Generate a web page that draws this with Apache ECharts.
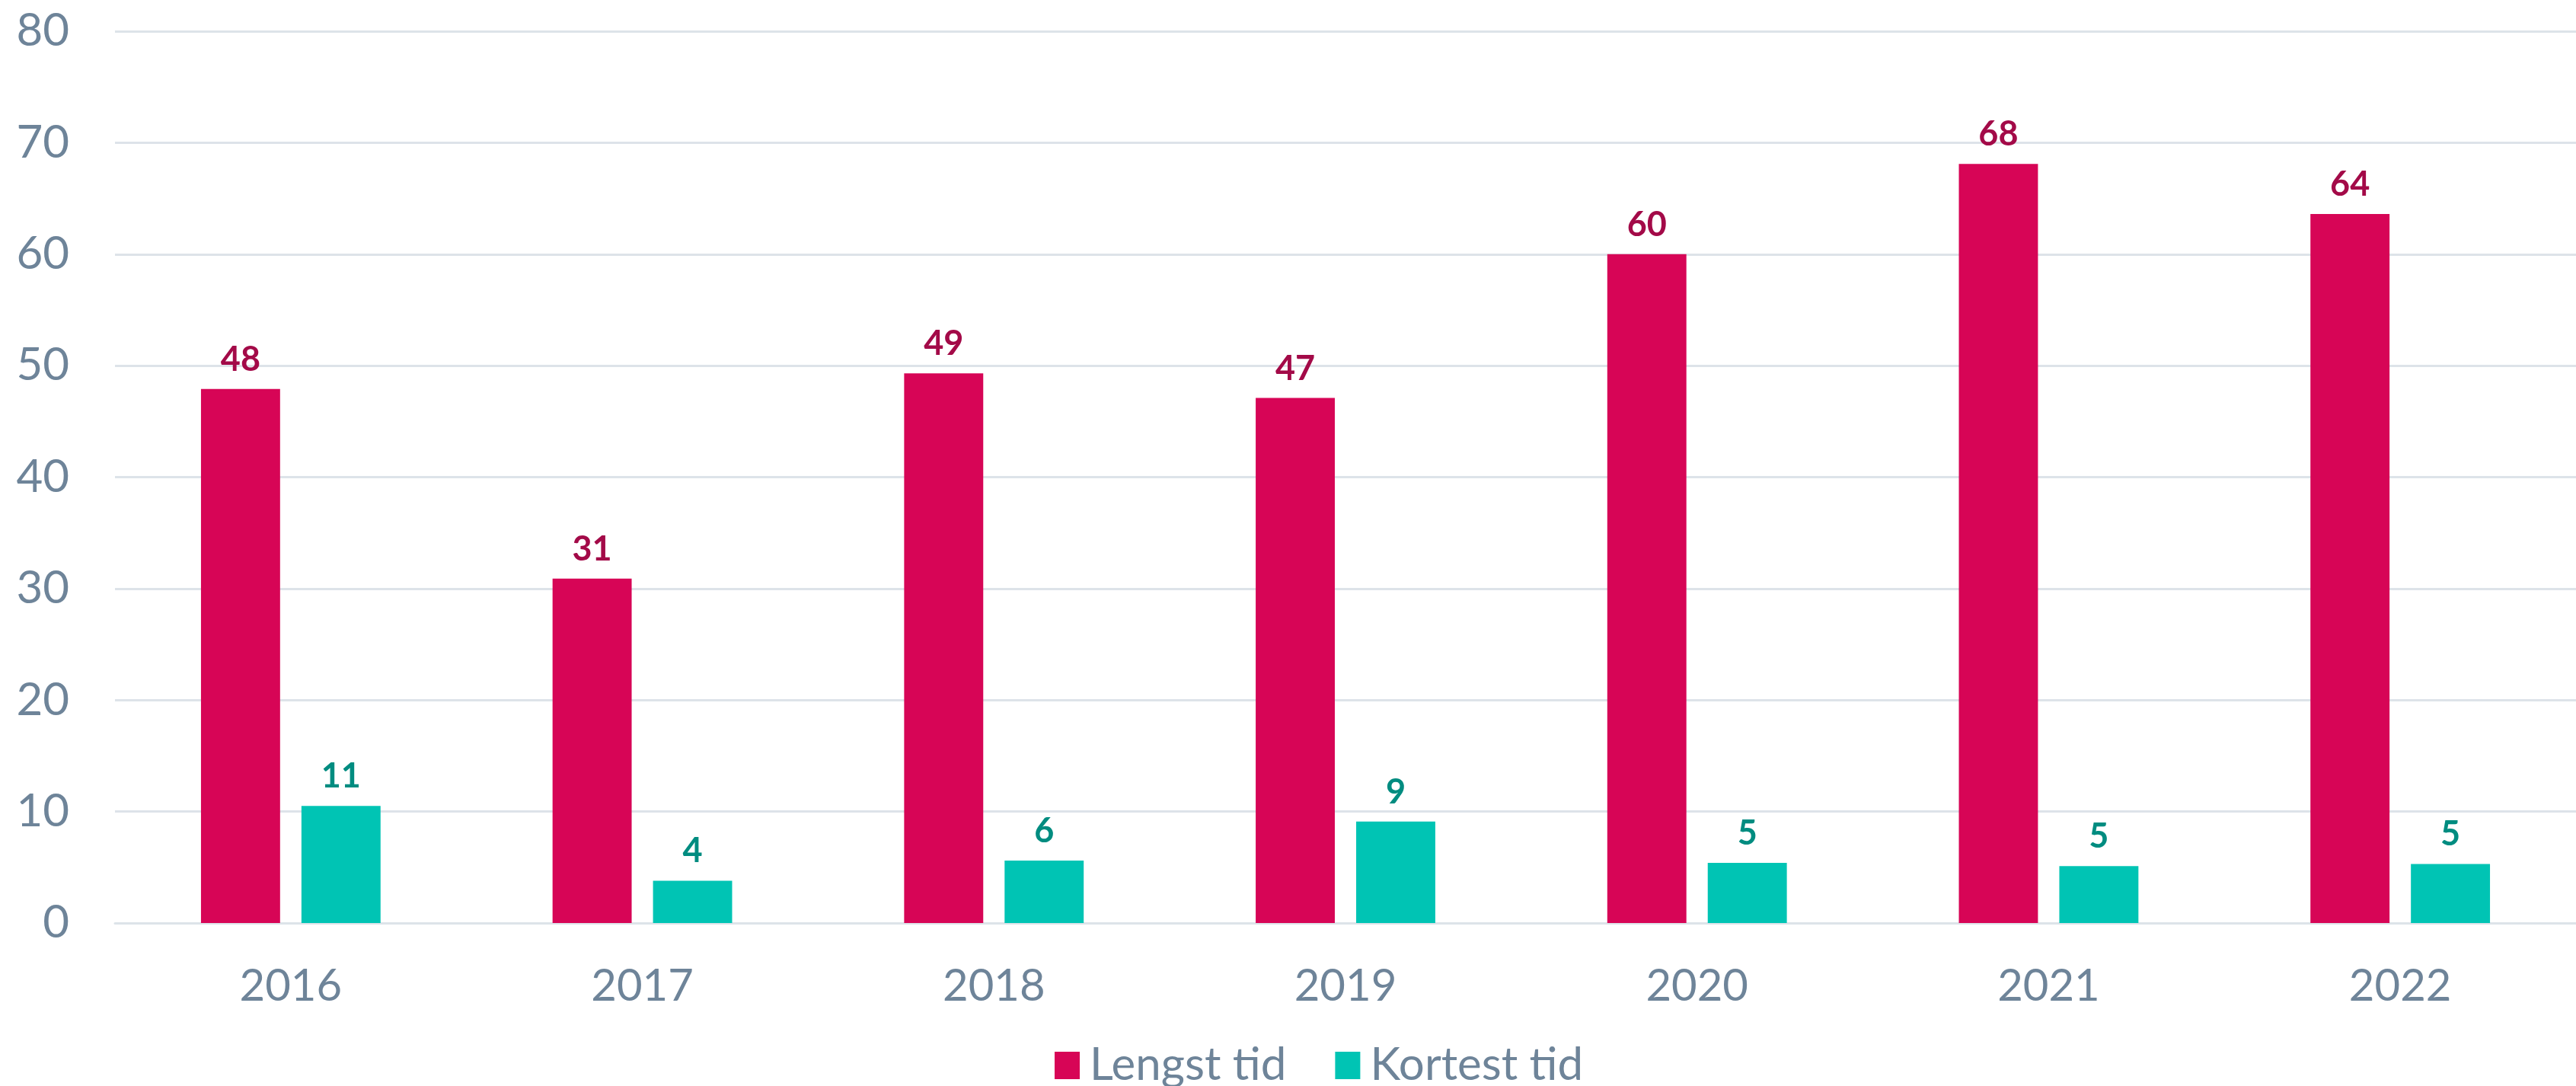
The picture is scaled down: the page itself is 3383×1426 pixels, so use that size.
<!DOCTYPE html>
<html>
<head>
<meta charset="utf-8">
<script src="https://cdn.jsdelivr.net/npm/echarts@6/dist/echarts.min.js"></script>
<style>
  html, body { margin: 0; padding: 0; background: #fff; }
  #chart { width: 3383px; height: 1426px; }
</style>
</head>
<body>
<div id="chart"></div>
<script>
const years = ['2016', '2017', '2018', '2019', '2020', '2021', '2022'];
const lengstTid = [47.9, 30.9, 49.3, 47.1, 60.0, 68.1, 63.6];
const kortestTid = [10.5, 3.8, 5.6, 9.1, 5.4, 5.1, 5.3];
const seriesNames = ['Lengst tid', 'Kortest tid'];

const fontFamily = 'Lato, "Open Sans", sans-serif';
const axisColor = '#6e8499';
const gridColor = '#dde3e9';

const chart = echarts.init(document.getElementById('chart'));

const labelStyle = (color) => ({
  show: true,
  position: 'top',
  distance: 16,
  color: color,
  fontSize: 45,
  fontWeight: 'bold',
  fontFamily: fontFamily,
  formatter: ({ value }) => Math.round(value)
});

chart.setOption({
  animation: false,
  grid: {
    left: 151,
    right: 0,
    top: 41,
    bottom: 214
  },
  legend: {
    data: seriesNames,
    left: 1380,
    bottom: -8,
    icon: 'rect',
    itemWidth: 33,
    itemHeight: 36,
    itemGap: 64,
    textStyle: {
      color: axisColor,
      fontSize: 60,
      fontFamily: fontFamily,
      padding: [0, 0, 0, 8]
    }
  },
  xAxis: {
    type: 'category',
    data: years,
    axisTick: { show: false },
    axisLine: { lineStyle: { color: gridColor, width: 3 } },
    axisLabel: {
      color: axisColor,
      fontSize: 58,
      fontFamily: fontFamily,
      margin: 54
    }
  },
  yAxis: {
    type: 'value',
    min: 0,
    max: 80,
    interval: 10,
    axisLabel: {
      color: axisColor,
      fontSize: 60,
      fontFamily: fontFamily,
      margin: 60
    },
    splitLine: { lineStyle: { color: gridColor, width: 3 } }
  },
  series: [
    {
      name: seriesNames[0],
      type: 'bar',
      data: lengstTid,
      barWidth: '22.5%',
      barGap: '27%',
      itemStyle: { color: '#d70556' },
      label: labelStyle('#a30a48')
    },
    {
      name: seriesNames[1],
      type: 'bar',
      data: kortestTid,
      barWidth: '22.5%',
      itemStyle: { color: '#00c4b4' },
      label: labelStyle('#008c80')
    }
  ]
});
</script>
</body>
</html>
